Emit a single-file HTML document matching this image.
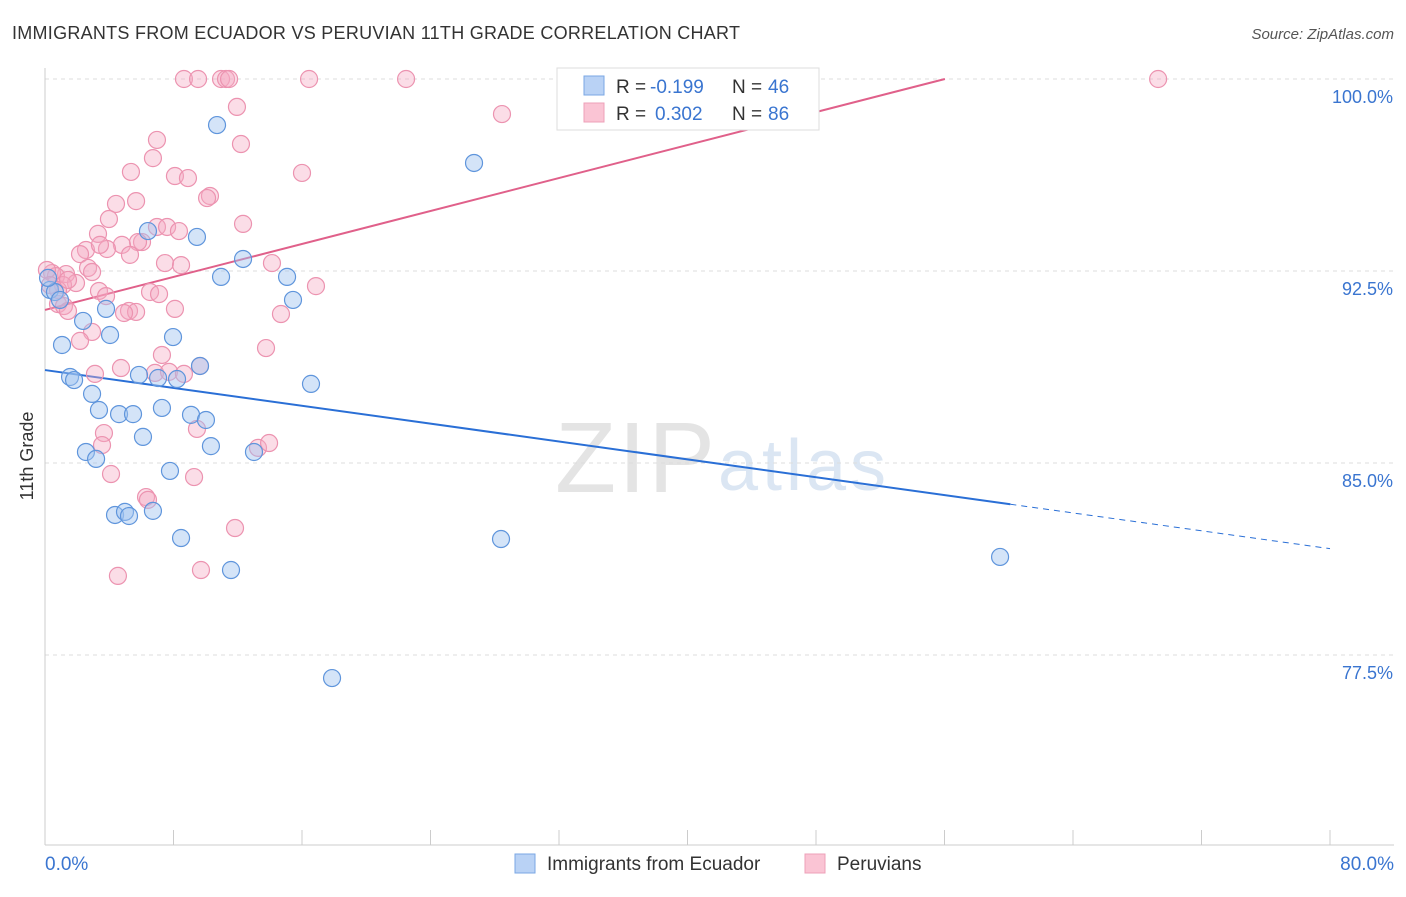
<!DOCTYPE html>
<html><head><meta charset="utf-8"><style>
body{margin:0;background:#fff;font-family:"Liberation Sans",sans-serif;}
svg text{font-family:"Liberation Sans",sans-serif;}
</style></head><body>
<svg id="chart" width="1406" height="892" xmlns="http://www.w3.org/2000/svg">
<text x="12" y="39" font-size="18" fill="#333" textLength="728">IMMIGRANTS FROM ECUADOR VS PERUVIAN 11TH GRADE CORRELATION CHART</text>
<text x="1394" y="39" font-size="15" fill="#555" text-anchor="end" font-style="italic">Source: ZipAtlas.com</text>
<text x="555" y="492" font-size="100" fill="#e4e4e4" font-family="Liberation Serif" textLength="160">ZIP</text>
<text x="718" y="490" font-size="72" fill="#dbe6f3" textLength="168">atlas</text>
<g id="grid"></g><g id="axes"></g><g id="trend"></g><g id="points"></g>
<text transform="translate(33,456) rotate(-90)" font-size="18" fill="#333" text-anchor="middle">11th Grade</text>
<g>
<rect x="557" y="68" width="262" height="62" fill="#fff" stroke="#ddd"/>
<rect x="584" y="76" width="20" height="19" fill="#b9d2f5" stroke="#7aa7e4"/>
<rect x="584" y="103" width="20" height="19" fill="#fac4d4" stroke="#eea0b8"/>
<text x="616" y="93" font-size="19" fill="#333">R =</text>
<text x="650" y="93" font-size="19" fill="#3a75d0">-0.199</text>
<text x="732" y="93" font-size="19" fill="#333">N =</text>
<text x="768" y="93" font-size="19" fill="#3a75d0">46</text>
<text x="616" y="120" font-size="19" fill="#333">R =</text>
<text x="655" y="120" font-size="19" fill="#3a75d0">0.302</text>
<text x="732" y="120" font-size="19" fill="#333">N =</text>
<text x="768" y="120" font-size="19" fill="#3a75d0">86</text>
</g>
<g>
<rect x="515" y="854" width="20" height="19" fill="#b9d2f5" stroke="#7aa7e4"/>
<text x="547" y="870" font-size="19" fill="#333">Immigrants from Ecuador</text>
<rect x="805" y="854" width="20" height="19" fill="#fac4d4" stroke="#eea0b8"/>
<text x="837" y="870" font-size="19" fill="#333">Peruvians</text>
</g>
</svg>
<script>
const yTicks=[100,92.5,85,77.5];
const yTickLabels=["100.0%","92.5%","85.0%","77.5%"];
const xTickLabels=["0.0%","80.0%"];
const blueX=[10.71,26.71,6.41,9.46,12.33,10.96,15.07,15.44,3.80,2.37,4.05,1.06,7.97,9.65,5.85,1.56,1.81,7.04,8.22,16.56,2.93,3.36,4.61,5.48,7.28,9.09,10.02,6.10,10.33,13.01,2.55,3.18,7.78,4.36,4.98,5.23,6.72,8.47,28.39,11.58,59.46,17.87,0.31,0.62,0.19,0.93];
const blueY=[98.20,96.72,94.06,93.83,92.97,92.27,92.27,91.37,91.02,90.55,90.00,89.61,89.92,88.79,88.44,88.36,88.24,88.32,88.28,88.09,87.70,87.07,86.91,86.91,87.15,86.88,86.68,86.02,85.66,85.43,85.43,85.16,84.69,82.97,83.09,82.93,83.13,82.07,82.03,80.82,81.33,76.60,91.76,91.68,92.23,91.37];
const pinkX=[8.65,9.53,10.96,11.27,11.46,16.44,22.48,69.30,11.95,28.45,6.97,12.20,6.72,5.35,16.00,8.09,8.90,10.27,10.09,5.67,4.42,3.98,12.33,6.97,7.60,8.34,3.30,6.04,5.79,4.79,2.55,3.86,2.18,5.29,14.13,7.47,8.47,2.68,2.93,1.31,0.44,0.68,1.93,1.12,16.87,3.36,6.54,7.10,3.80,0.81,1.18,1.43,5.23,5.67,4.92,8.09,14.69,2.93,2.18,13.76,7.28,3.11,4.73,6.85,7.72,8.65,9.65,3.67,3.55,4.11,9.28,6.29,6.41,9.46,13.26,13.95,11.83,4.54,9.71,0.12,0.31,0.81,1.43,3.42];
const pinkY=[100,100,100,100,100,100,100,100,98.91,98.63,97.62,97.46,96.91,96.37,96.33,96.21,96.13,95.43,95.35,95.23,95.12,94.53,94.34,94.22,94.22,94.06,93.95,93.63,93.63,93.52,93.32,93.36,93.16,93.13,92.81,92.81,92.73,92.62,92.46,92.38,92.42,92.30,92.03,91.95,91.91,91.72,91.68,91.60,91.52,91.21,91.13,90.94,90.94,90.90,90.86,91.02,90.82,90.12,89.77,89.49,89.22,88.48,88.71,88.52,88.56,88.48,88.79,86.17,85.70,84.57,84.45,83.67,83.56,86.33,85.59,85.78,82.46,80.59,80.82,92.54,91.95,91.76,92.15,93.52];
const blueTrend=[88.63,-0.0872];
const pinkTrend=[90.98,0.161];
const NS="http://www.w3.org/2000/svg";
const sx=v=>45+v/80*1285;
const sy=v=>79+(100-v)/7.5*192;
function mk(t,a,p){const e=document.createElementNS(NS,t);for(const k in a)e.setAttribute(k,a[k]);document.getElementById(p).appendChild(e);return e;}
yTicks.forEach((v,i)=>{
 const g=mk('line',{x1:45,x2:1394,y1:sy(v),y2:sy(v),stroke:'#ddd','stroke-dasharray':'4,4'},'grid');
 
 
 const t=mk('text',{x:1393,y:sy(v)+24,'font-size':18,fill:'#3a75d0','text-anchor':'end'},'grid');
 t.textContent=yTickLabels[i];
 
 
});
const ax=mk('line',{x1:45,x2:1394,y1:845,y2:845,stroke:'#ccc'},'axes');


const ay=mk('line',{x1:45,x2:45,y1:68,y2:845,stroke:'#ccc'},'axes');


for(let i=0;i<=10;i++){const t=mk('line',{x1:sx(i*8),x2:sx(i*8),y1:830,y2:845,stroke:'#ccc'},'axes');
 
 }
[[0,'start',45],[80,'end',1394]].forEach((d,i)=>{const t=mk('text',{x:d[2],y:870,'font-size':19,fill:'#3a75d0','text-anchor':d[1]},'axes');t.textContent=xTickLabels[i];
 
 });
const bx=60.1;
const b1=mk('line',{x1:sx(0),y1:sy(blueTrend[0]),x2:sx(bx),y2:sy(blueTrend[0]+blueTrend[1]*bx),stroke:'#2a6fd6','stroke-width':2},'trend');


const b2=mk('line',{x1:sx(bx),y1:sy(blueTrend[0]+blueTrend[1]*bx),x2:sx(80),y2:sy(blueTrend[0]+blueTrend[1]*80),stroke:'#2a6fd6','stroke-width':1,'stroke-dasharray':'6,5'},'trend');


const px=(100-pinkTrend[0])/pinkTrend[1];
const p1=mk('line',{x1:sx(0),y1:sy(pinkTrend[0]),x2:sx(px),y2:sy(100),stroke:'#e0608a','stroke-width':2},'trend');


pinkX.forEach((x,i)=>{const c=mk('circle',{cx:sx(x),cy:sy(pinkY[i]),r:8.5,fill:'rgba(245,170,195,0.4)',stroke:'#ec93b0','stroke-width':1.2},'points');
 
 });
blueX.forEach((x,i)=>{const c=mk('circle',{cx:sx(x),cy:sy(blueY[i]),r:8.5,fill:'rgba(160,195,240,0.45)',stroke:'#5f95dc','stroke-width':1.2},'points');
 
 });
</script>
</body></html>
